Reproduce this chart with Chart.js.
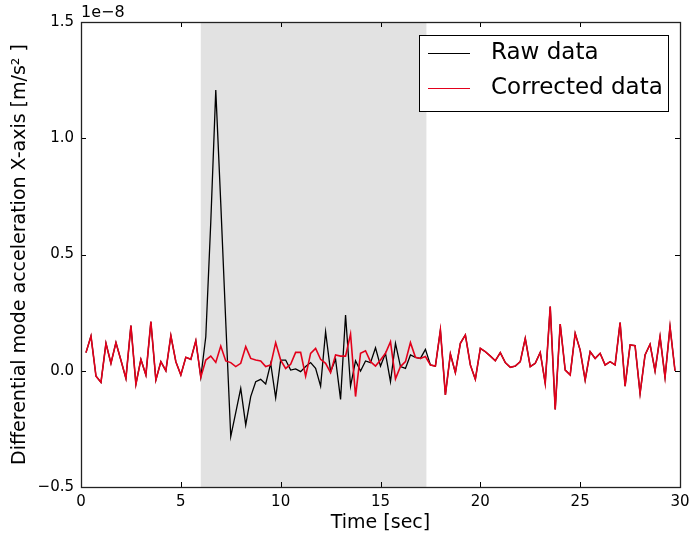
<!DOCTYPE html>
<html><head><meta charset="utf-8">
<script src="https://cdn.jsdelivr.net/npm/chart.js@4.4.0/dist/chart.umd.min.js"></script>
<style>html,body{margin:0;padding:0;background:#fff}#wrap{width:689px;height:538px;position:relative}</style>
</head><body><div id="wrap"><canvas id="c"></canvas></div>
<script>
// Data (y values in units of 1e-8 m/s^2)
const timeSec = [0.25,0.5,0.75,1,1.25,1.5,1.75,2,2.25,2.5,2.75,3,3.25,3.5,3.75,4,4.25,4.5,4.75,5,
5.25,5.5,5.75,6,6.25,6.5,6.75,7,7.25,7.5,7.75,8,8.25,8.5,8.75,9,9.25,9.5,9.75,10,
10.25,10.5,10.75,11,11.25,11.5,11.75,12,12.25,12.5,12.75,13,13.25,13.5,13.75,14,14.25,14.5,14.75,15,
15.25,15.5,15.75,16,16.25,16.5,16.75,17,17.25,17.5,17.75,18,18.25,18.5,18.75,19,19.25,19.5,19.75,20,
20.25,20.5,20.75,21,21.25,21.5,21.75,22,22.25,22.5,22.75,23,23.25,23.5,23.75,24,24.25,24.5,24.75,25,
25.25,25.5,25.75,26,26.25,26.5,26.75,27,27.25,27.5,27.75,28,28.25,28.5,28.75,29,29.25,29.5,29.75];

const correctedData = [0.078,0.149,-0.023,-0.05,0.118,0.032,0.121,0.045,-0.033,0.194,-0.058,0.049,-0.018,0.211,-0.04,0.039,0.0,0.151,0.039,-0.018,
0.058,0.049,0.129,-0.028,0.046,0.063,0.036,0.106,0.042,0.035,0.018,0.032,0.104,0.053,0.046,0.042,0.018,0.025,0.121,0.046,
0.010,0.028,0.079,0.079,-0.023,0.075,0.096,0.049,0.032,-0.008,0.068,0.063,0.063,0.158,-0.111,0.075,0.086,0.039,0.020,0.046,
0.075,0.125,-0.035,0.018,0.039,0.121,0.058,0.053,0.061,0.025,0.020,0.175,-0.104,0.072,-0.008,0.118,0.154,0.025,-0.037,0.096,
0.082,0.063,0.043,0.078,0.035,0.015,0.020,0.039,0.139,0.018,0.032,0.079,-0.054,0.276,-0.166,0.201,0.003,-0.018,0.161,0.089,
-0.040,0.082,0.053,0.075,0.025,0.039,0.025,0.207,-0.066,0.111,0.108,-0.097,0.068,0.114,-0.001,0.147,-0.028,0.190,0.0];

// Raw data: identical to corrected outside the disturbance window (hidden beneath it)
const rawData = [0.078,0.149,-0.023,-0.05,0.118,0.032,0.121,0.045,-0.033,0.194,-0.058,0.049,-0.018,0.211,-0.04,0.039,0.0,0.151,0.039,-0.018,
0.058,0.049,0.129,-0.028,0.146,0.64,1.207,0.72,0.21,-0.283,-0.18,-0.076,-0.233,-0.111,-0.047,-0.037,-0.057,0.032,-0.116,0.046,
0.046,0.003,0.008,-0.004,0.018,0.035,0.010,-0.066,0.168,-0.004,0.049,-0.123,0.240,-0.066,0.043,-0.001,0.042,0.035,0.099,0.020,
0.075,-0.047,0.118,0.018,0.010,0.068,0.058,0.053,0.092,0.025,0.020,0.175,-0.104,0.072,-0.008,0.118,0.154,0.025,-0.037,0.096,
0.082,0.063,0.043,0.078,0.035,0.015,0.020,0.039,0.139,0.018,0.032,0.079,-0.054,0.276,-0.166,0.201,0.003,-0.018,0.161,0.089,
-0.040,0.082,0.053,0.075,0.025,0.039,0.025,0.207,-0.066,0.111,0.108,-0.097,0.068,0.114,-0.001,0.147,-0.028,0.190,0.0];

const shadedWindow = [6.0, 17.3];
const xTicks = [0,5,10,15,20,25,30];
const yTicks = [-0.5,0.0,0.5,1.0,1.5];
const seriesLabels = ['Raw data','Corrected data'];
const seriesColors = ['#000000','#e3001b'];
const yOffsetText = '1e\u22128';

const FONT = "'DejaVu Sans', sans-serif";
const fmtY = v => (v < 0 ? '\u2212' : '') + Math.abs(v).toFixed(1);
const fmtX = v => (v < 0 ? '\u2212' : '') + Math.abs(v);

const shadePlugin = {
  id: 'shade',
  beforeDatasetsDraw(chart) {
    const {ctx, chartArea: a, scales: {x}} = chart;
    const x0 = x.getPixelForValue(shadedWindow[0]);
    const x1 = x.getPixelForValue(shadedWindow[1]);
    ctx.save();
    ctx.fillStyle = '#e2e2e2';
    ctx.fillRect(x0, a.top, x1 - x0, a.bottom - a.top);
    ctx.restore();
  }
};

const framePlugin = {
  id: 'frame',
  afterDraw(chart) {
    const {ctx, chartArea: a, scales: {x, y}} = chart;
    ctx.save();
    ctx.strokeStyle = '#000';
    ctx.lineWidth = 1;
    const L = 5;
    ctx.beginPath();
    xTicks.forEach(t => {
      const px = Math.round(x.getPixelForValue(t)) + 0.5;
      ctx.moveTo(px, a.bottom); ctx.lineTo(px, a.bottom - L);
      ctx.moveTo(px, a.top); ctx.lineTo(px, a.top + L);
    });
    yTicks.forEach(t => {
      const py = Math.round(y.getPixelForValue(t)) + 0.5;
      ctx.moveTo(a.left, py); ctx.lineTo(a.left + L, py);
      ctx.moveTo(a.right, py); ctx.lineTo(a.right - L, py);
    });
    ctx.stroke();
    ctx.strokeStyle = '#222';
    ctx.lineWidth = 1.3;
    ctx.strokeRect(Math.round(a.left) + 0.5, Math.round(a.top) + 0.5, Math.round(a.right - a.left), Math.round(a.bottom - a.top));
    // offset text
    ctx.fillStyle = '#000';
    ctx.font = '16px ' + FONT;
    ctx.textAlign = 'left';
    ctx.textBaseline = 'alphabetic';
    ctx.fillText(yOffsetText, a.left, a.top - 5);
    // legend
    const bx = 419, by = 35, bw = 249, bh = 76;
    ctx.fillStyle = '#fff';
    ctx.fillRect(bx, by, bw, bh);
    ctx.strokeStyle = '#000';
    ctx.lineWidth = 1;
    ctx.strokeRect(bx + 0.5, by + 0.5, bw, bh);
    ctx.font = '23px ' + FONT;
    ctx.textBaseline = 'middle';
    chart.data.datasets.forEach((ds, i) => {
      const cy = by + 18 + i * 35;
      ctx.strokeStyle = ds.borderColor;
      ctx.lineWidth = 1.2;
      ctx.beginPath();
      ctx.moveTo(bx + 9, cy + 0.5); ctx.lineTo(bx + 51, cy + 0.5);
      ctx.stroke();
      ctx.fillStyle = '#000';
      ctx.fillText(ds.label, bx + 72, cy);
    });
    ctx.restore();
  }
};

const pts = arr => arr.map((v, i) => ({x: timeSec[i], y: v}));

new Chart(document.getElementById('c'), {
  type: 'line',
  data: {
    datasets: [
      {label: seriesLabels[0], data: pts(rawData), borderColor: seriesColors[0], borderWidth: 1.3, pointRadius: 0, tension: 0, order: 2},
      {label: seriesLabels[1], data: pts(correctedData), borderColor: seriesColors[1], borderWidth: 1.6, pointRadius: 0, tension: 0, order: 1}
    ]
  },
  options: {
    responsive: true,
    maintainAspectRatio: false,
    animation: false,
    events: [],
    layout: {padding: {left: 0, right: 9, top: 22, bottom: 0}},
    plugins: {legend: {display: false}, tooltip: {enabled: false}},
    scales: {
      x: {
        type: 'linear', min: 0, max: 30,
        afterBuildTicks: s => { s.ticks = xTicks.map(v => ({value: v})); },
        afterFit: s => { s.height = 51; s.paddingLeft = 0; s.paddingRight = 0; },
        grid: {display: false, drawTicks: false},
        border: {display: false},
        ticks: {padding: 6, color: '#000', font: {family: FONT, size: 15}, callback: v => fmtX(v), maxRotation: 0},
        title: {display: true, text: 'Time [sec]', color: '#000', font: {family: FONT, size: 19}, padding: {top: 0, bottom: 4}}
      },
      y: {
        type: 'linear', min: -0.5, max: 1.5,
        afterBuildTicks: s => { s.ticks = yTicks.map(v => ({value: v})); },
        afterFit: s => { s.width = 81; s.paddingTop = 0; s.paddingBottom = 0; },
        grid: {display: false, drawTicks: false},
        border: {display: false},
        ticks: {padding: 7, color: '#000', font: {family: FONT, size: 15}, callback: v => fmtY(v)},
        title: {display: true, text: 'Differential mode acceleration X-axis [m/s\u00b2 ]', color: '#000', font: {family: FONT, size: 19}, padding: {top: 9, bottom: 0}}
      }
    }
  },
  plugins: [shadePlugin, framePlugin]
});
</script>
</body></html>
